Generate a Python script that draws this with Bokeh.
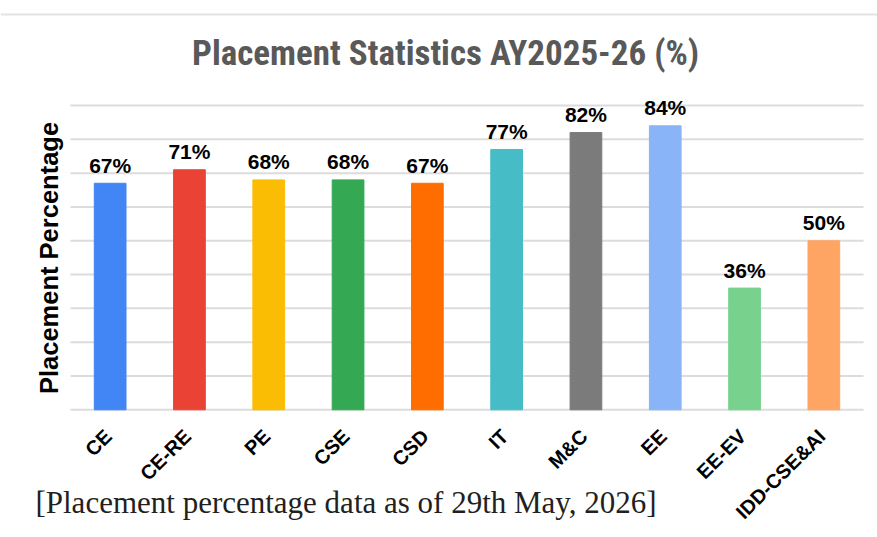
from math import pi
from bokeh.plotting import figure
from bokeh.models import ColumnDataSource, Range1d, Label, Span
from bokeh.core.properties import value
from bokeh.embed import file_html
from bokeh.resources import INLINE

# ---- data ----
categories = ["CE", "CE-RE", "PE", "CSE", "CSD", "IT", "M&C", "EE", "EE-EV", "IDD-CSE&AI"]
placement = [67, 71, 68, 68, 67, 77, 82, 84, 36, 50]
bar_colors = ["#4285F4", "#EA4335", "#FBBC04", "#34A853", "#FF6D01",
              "#46BDC6", "#7B7B7B", "#8AB4F8", "#78D28E", "#FFA564"]
grid_ticks = [0, 10, 20, 30, 40, 50, 60, 70, 80, 90]
title_text = "Placement Statistics AY2025-26 (%)"
y_label = "Placement Percentage"
caption_text = "[Placement percentage data as of 29th May, 2026]"

n = len(categories)
idx = list(range(n))

src = ColumnDataSource(dict(
    x=idx,
    cat=categories,
    val=placement,
    color=bar_colors,
    lbl=[f"{v}%" for v in placement],
))

# whole canvas is the plotting frame (no axes), so that every text can sit anywhere
p = figure(width=877, height=537,
           x_range=Range1d(-1.3827, 9.6765),
           y_range=Range1d(-37.77, 121.06),
           x_axis_location=None, y_axis_location=None,
           output_backend="svg", toolbar_location=None,
           min_border=0)
p.outline_line_color = None
p.grid.visible = False

# horizontal gridlines spanning the category bands
p.segment(x0=[-0.5] * len(grid_ticks), x1=[n - 0.5] * len(grid_ticks),
          y0=grid_ticks, y1=grid_ticks, line_color="#dcdcdc", line_width=2)

p.vbar(x="x", top="val", bottom=0, width=0.4, color="color", source=src)

p.text(x="x", y="val", text="lbl", source=src,
       text_align="center", text_baseline="alphabetic", y_offset=-18,
       text_font=value("Liberation Sans"), text_font_style="bold",
       text_font_size="21px", text_color="black")

# rotated category labels
p.text(x="x", y=0, text="cat", source=src, angle=pi / 4,
       text_align="right", text_baseline="middle", x_offset=-2, y_offset=23,
       text_font=value("Liberation Sans"), text_font_style="bold",
       text_font_size="20px", text_color="black")

p.add_layout(Span(location=116.9, dimension="width", line_color="#e3e3e3", line_width=2))

p.add_layout(Label(x=4.23, y=105.5, text=title_text,
                   text_align="center", text_baseline="alphabetic",
                   text_font="Roboto Condensed, Open Sans",
                   text_font_style="bold", text_font_size="35px",
                   text_color="#595959"))

p.add_layout(Label(x=-0.772, y=44.9, text=y_label, angle=pi / 2,
                   text_align="center", text_baseline="alphabetic",
                   text_font="Liberation Sans", text_font_style="bold",
                   text_font_size="25.5px", text_color="black"))

p.add_layout(Label(x=-0.942, y=-27.33, text=caption_text,
                   text_align="left", text_baseline="alphabetic",
                   text_font="Liberation Serif", text_font_size="31px",
                   text_color="#231f20"))

open("out.html", "w").write(file_html(p, INLINE))
